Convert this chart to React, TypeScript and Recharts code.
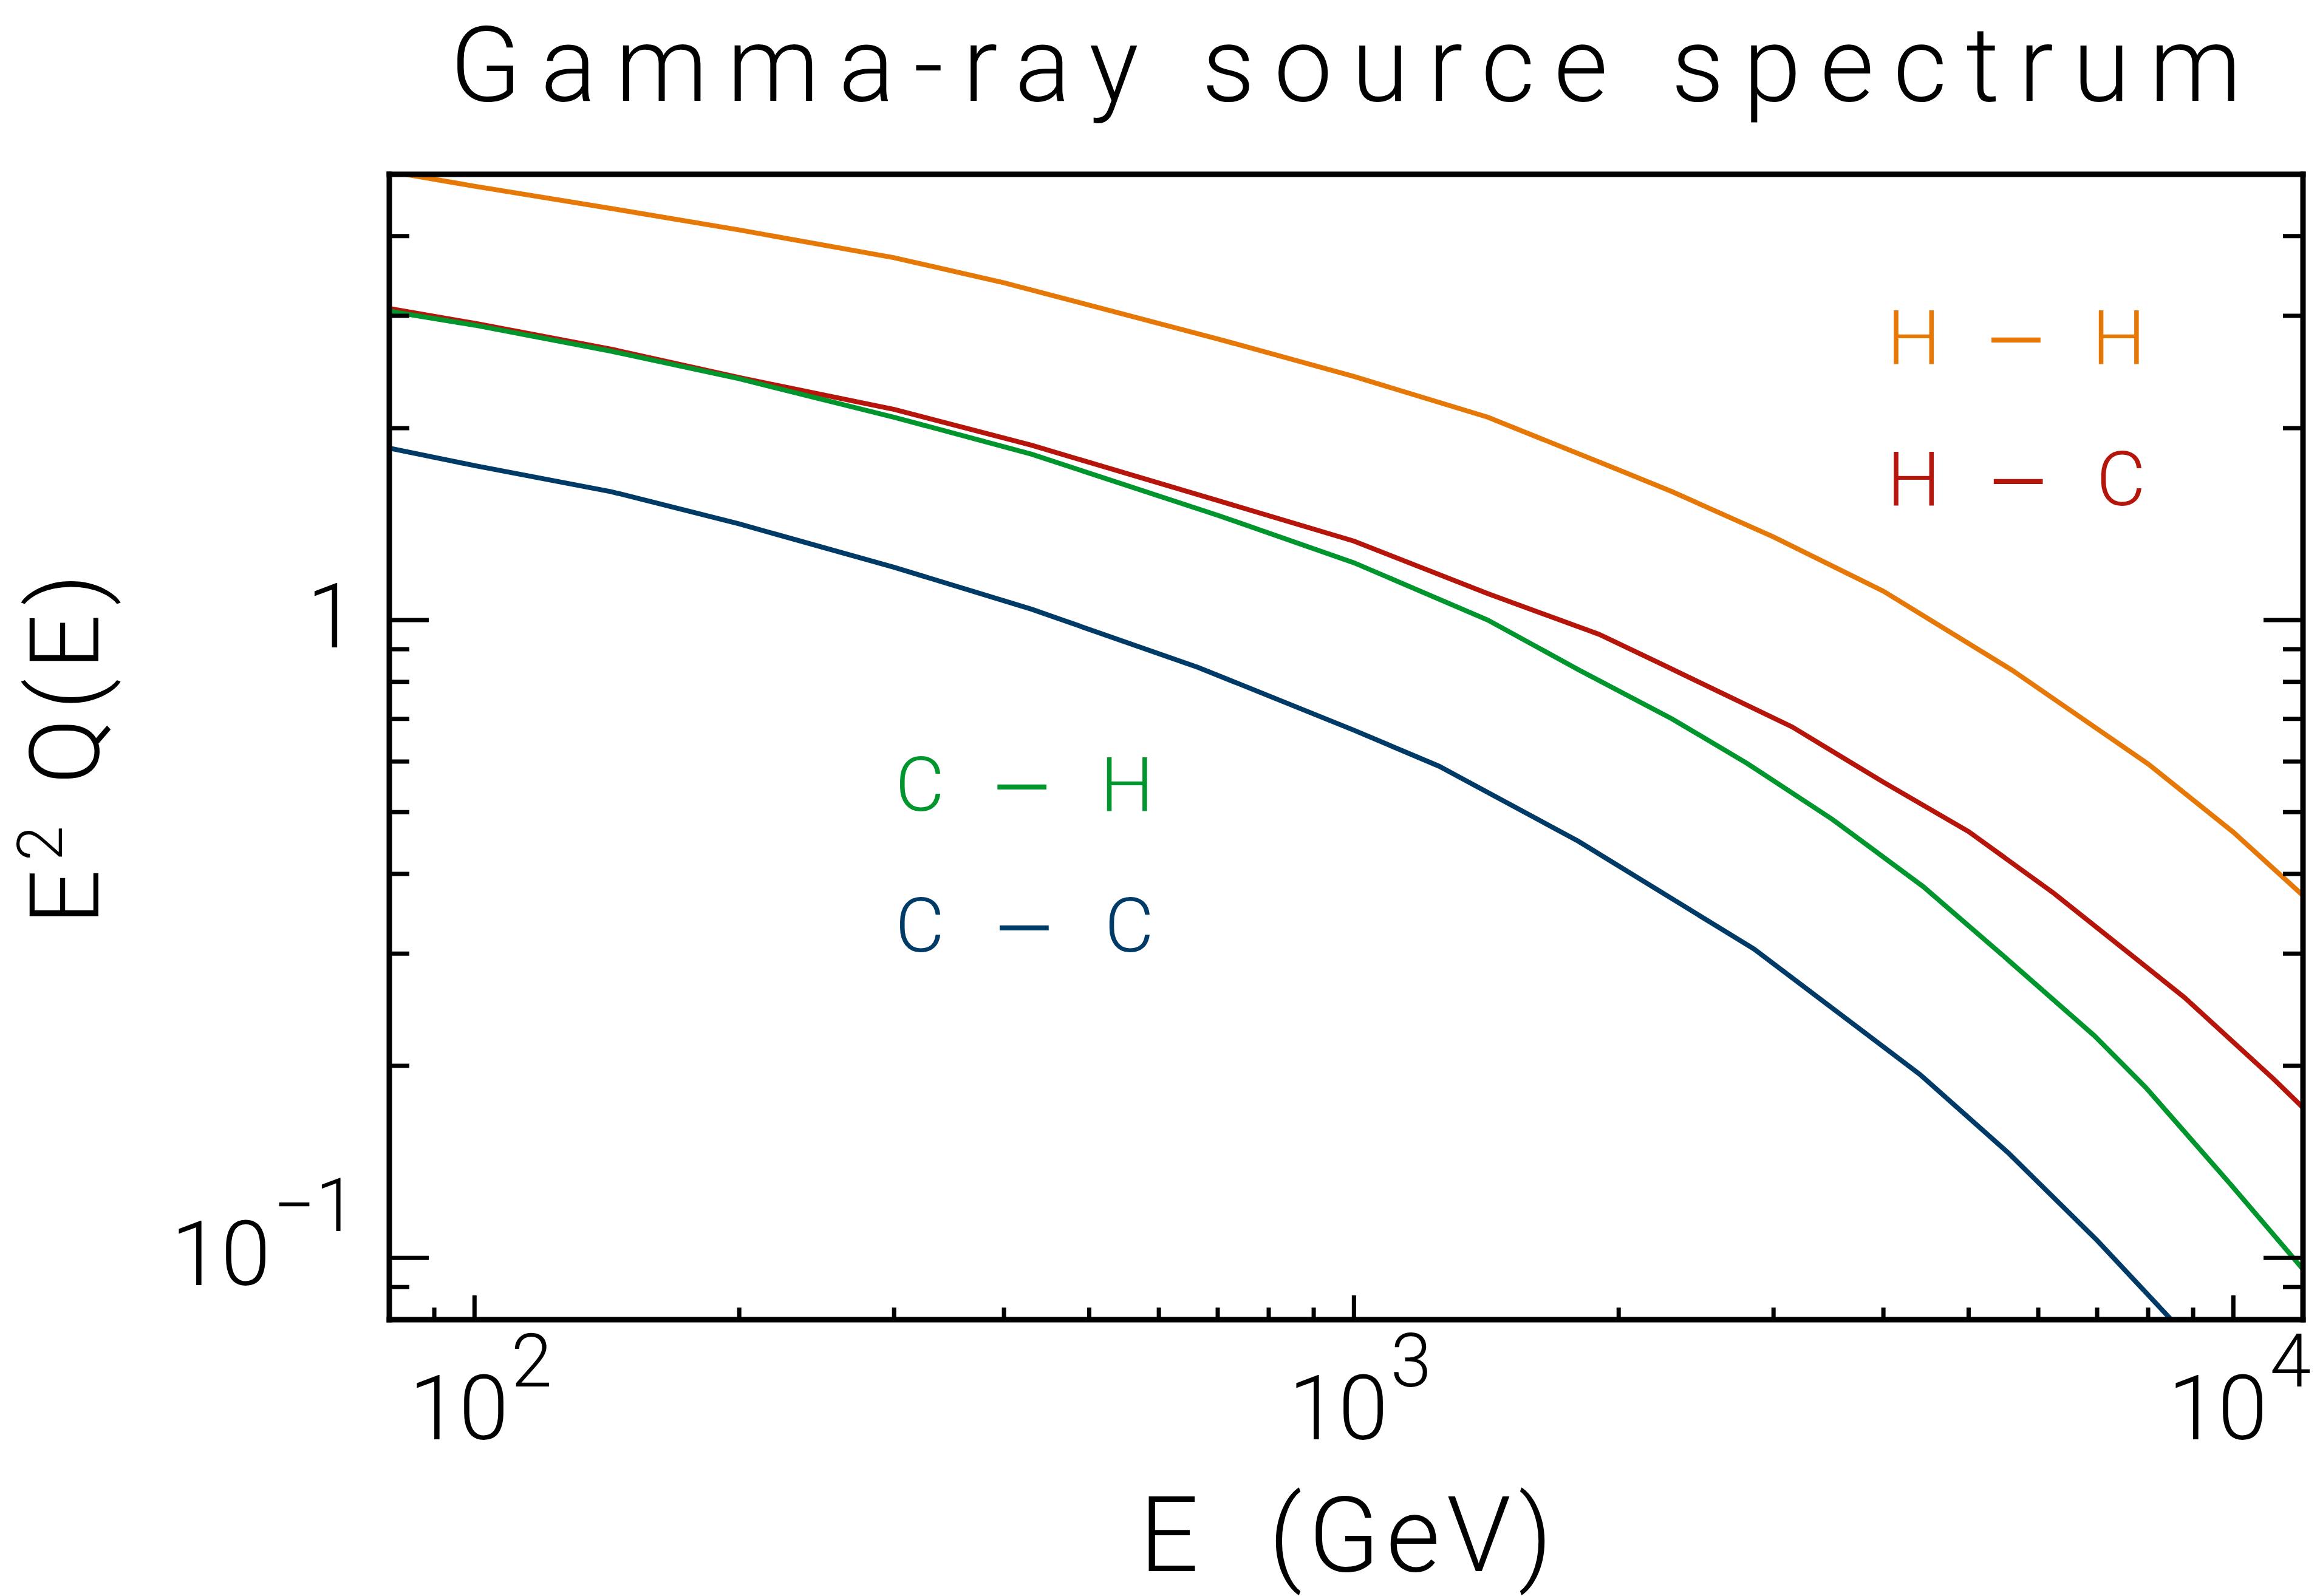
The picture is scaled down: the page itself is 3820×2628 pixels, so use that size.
import { LineChart, Line, XAxis, YAxis, Label } from 'recharts';

// energies (GeV) and E^2 Q(E), one pair of arrays per curve
const hhE = [80, 100, 143, 200, 300, 400, 700, 1000, 1420, 2000, 2300, 3000, 4000, 5600, 8000, 10000, 12000];
const hhQ = [5.05, 4.79, 4.42, 4.09, 3.7, 3.38, 2.76, 2.41, 2.08, 1.72, 1.59, 1.35, 1.11, 0.835, 0.595, 0.465, 0.37];

const hcE = [80, 100, 143, 200, 300, 430, 700, 1000, 1420, 1900, 2250, 3150, 4000, 5000, 6250, 8800, 11100, 12000];
const hcQ = [3.08, 2.92, 2.66, 2.4, 2.14, 1.88, 1.54, 1.33, 1.1, 0.95, 0.85, 0.68, 0.557, 0.466, 0.373, 0.256, 0.191, 0.172];

const chE = [80, 100, 143, 200, 300, 430, 700, 1000, 1420, 1800, 2300, 2800, 3500, 4440, 5500, 6950, 7950, 9900, 12000];
const chQ = [3.05, 2.9, 2.64, 2.39, 2.08, 1.82, 1.46, 1.23, 1.0, 0.836, 0.7, 0.596, 0.487, 0.382, 0.296, 0.223, 0.185, 0.131, 0.096];

const ccE = [80, 100, 143, 200, 300, 430, 665, 1000, 1250, 1800, 2850, 4400, 5550, 7000, 8500, 9500];
const ccQ = [1.86, 1.747, 1.59, 1.415, 1.21, 1.04, 0.843, 0.672, 0.59, 0.45, 0.305, 0.194, 0.146, 0.1065, 0.08, 0.066];

const xTicks = [90, 100, 200, 300, 400, 500, 600, 700, 800, 900, 1000, 2000, 3000, 4000, 5000, 6000, 7000, 8000, 9000, 10000];
const xMajor = [100, 1000, 10000];
const xExp = ['2', '3', '4'];

const yTicks = [0.09, 0.1, 0.2, 0.3, 0.4, 0.5, 0.6, 0.7, 0.8, 0.9, 1, 2, 3, 4];
const yMajor = [0.1, 1];
const yBase = ['10', '1'];
const yExp = ['\u22121', ''];

const ORANGE = '#e67808';
const RED = '#b5150a';
const GREEN = '#00962d';
const NAVY = '#003b68';

const series = [
  { from: 'H', to: 'H', color: ORANGE, e: hhE, q: hhQ },
  { from: 'H', to: 'C', color: RED, e: hcE, q: hcQ },
  { from: 'C', to: 'H', color: GREEN, e: chE, q: chQ },
  { from: 'C', to: 'C', color: NAVY, e: ccE, q: ccQ },
];

const FONT = "Roboto, 'DejaVu Sans', sans-serif";
const axisStyle = { stroke: '#000', strokeWidth: 9, strokeLinecap: 'square' as const };

const BottomTick = (p: any) => {
  const i = xMajor.indexOf(p.payload.value);
  const len = i >= 0 ? 40 : 20;
  return (
    <g>
      <line x1={p.x} y1={p.y} x2={p.x} y2={p.y - len} stroke="#000" strokeWidth={7} />
      {i >= 0 && (
        <text x={p.x + 10} y={p.y + 197} textAnchor="middle" fontSize={148} fontFamily={FONT} fontWeight={300}>
          <tspan>10</tspan>
          <tspan dx={4} dy={-87} fontSize={122}>{xExp[i]}</tspan>
        </text>
      )}
    </g>
  );
};

const TopTick = (p: any) => {
  const len = xMajor.includes(p.payload.value) ? 40 : 20;
  return <line x1={p.x} y1={p.y} x2={p.x} y2={p.y + len} stroke="#000" strokeWidth={7} />;
};

const LeftTick = (p: any) => {
  const i = yMajor.indexOf(p.payload.value);
  const len = i >= 0 ? 65 : 33;
  return (
    <g>
      <line x1={p.x} y1={p.y} x2={p.x + len} y2={p.y} stroke="#000" strokeWidth={7} />
      {i >= 0 && (
        <text x={p.x - 54} y={p.y + 45} textAnchor="end" fontSize={148} fontFamily={FONT} fontWeight={300}>
          <tspan>{yBase[i]}</tspan>
          {yExp[i] && <tspan dx={4} dy={-89} fontSize={122}>{yExp[i]}</tspan>}
        </text>
      )}
    </g>
  );
};

const RightTick = (p: any) => {
  const len = yMajor.includes(p.payload.value) ? 65 : 33;
  return <line x1={p.x} y1={p.y} x2={p.x - len} y2={p.y} stroke="#000" strokeWidth={7} />;
};

const renderTitle = () => (
  <text x={2216} y={166} textAnchor="middle" fontSize={172} fontFamily={FONT} fontWeight={300}
    textLength={2950} lengthAdjust="spacing">
    Gamma-ray source spectrum
  </text>
);

const renderXLabel = () => (
  <text x={2216} y={2587} textAnchor="middle" fontSize={172} fontFamily={FONT} fontWeight={300}
    textLength={680} lengthAdjust="spacing" style={{ whiteSpace: 'pre' }}>
    {'E  (GeV)'}
  </text>
);

const renderYLabel = () => (
  <text x={162} y={1234} textAnchor="middle" fontSize={160} fontFamily={FONT} fontWeight={300}
    transform="rotate(-90 162 1234)" textLength={578} lengthAdjust="spacing" style={{ whiteSpace: 'pre' }}>
    <tspan>E</tspan>
    <tspan dy={-60} fontSize={104}>2</tspan>
    <tspan dy={60}>{' Q(E)'}</tspan>
  </text>
);

const legendPos = [
  { x: 3107, y: 599 },
  { x: 3107, y: 832 },
  { x: 1474, y: 1335 },
  { x: 1474, y: 1567 },
];

const renderLegend = () => (
  <g>
    {series.map((s, i) => (
      <text key={i} x={legendPos[i].x} y={legendPos[i].y} fill={s.color} fontSize={125}
        fontFamily={FONT} fontWeight={300} textLength={426} lengthAdjust="spacing" style={{ whiteSpace: 'pre' }}>
        <tspan>{s.from + ' '}</tspan>
        <tspan fontSize={165} dy={20}>{'\u2013'}</tspan>
        <tspan dy={-20}>{' ' + s.to}</tspan>
      </text>
    ))}
  </g>
);

export default function App() {
  return (
    <div style={{ position: 'absolute', left: 0, top: 0, width: 3820, height: 2628, background: '#fff', fontFamily: FONT }}>
      <LineChart width={3820} height={2628} margin={{ top: 0, right: 0, bottom: 0, left: 0 }}>
        <XAxis xAxisId="b" orientation="bottom" type="number" dataKey="e" scale="log" domain={[80, 12000]}
          allowDataOverflow ticks={xTicks} interval={0} height={455} tickSize={0} tickMargin={0}
          axisLine={axisStyle} tickLine={false} tick={BottomTick}>
          <Label content={renderXLabel} />
        </XAxis>
        <XAxis xAxisId="t" orientation="top" type="number" scale="log" domain={[80, 12000]}
          allowDataOverflow ticks={xTicks} interval={0} height={287} tickSize={0} tickMargin={0}
          axisLine={axisStyle} tickLine={false} tick={TopTick}>
          <Label content={renderTitle} />
        </XAxis>
        <YAxis yAxisId="l" orientation="left" type="number" scale="log" domain={[0.08, 5]}
          allowDataOverflow ticks={yTicks} interval={0} width={641} tickSize={0} tickMargin={0}
          axisLine={axisStyle} tickLine={false} tick={LeftTick}>
          <Label content={renderYLabel} />
        </YAxis>
        <YAxis yAxisId="r" orientation="right" type="number" scale="log" domain={[0.08, 5]}
          allowDataOverflow ticks={yTicks} interval={0} width={28} tickSize={0} tickMargin={0}
          axisLine={axisStyle} tickLine={false} tick={RightTick}>
          <Label content={renderLegend} />
        </YAxis>
        {series.map((s, k) => (
          <Line key={k} xAxisId="b" yAxisId="l" data={s.e.map((e, i) => ({ e, q: s.q[i] }))}
            dataKey="q" type="linear" stroke={s.color} strokeWidth={8} dot={false}
            activeDot={false} isAnimationActive={false} />
        ))}
      </LineChart>
    </div>
  );
}
